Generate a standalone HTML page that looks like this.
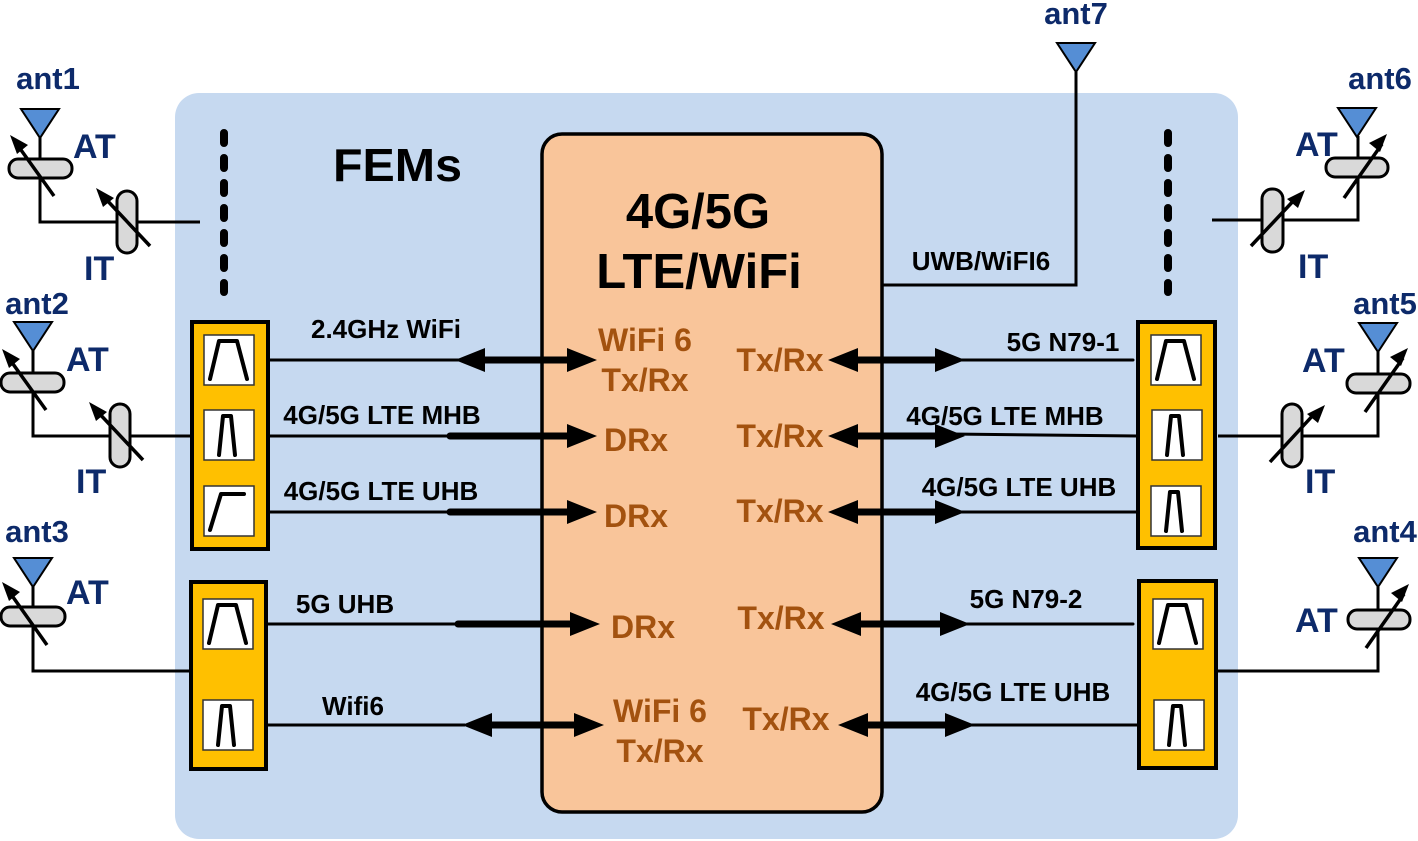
<!DOCTYPE html>
<html><head><meta charset="utf-8"><style>
html,body{margin:0;padding:0;background:#fff;}
svg{display:block;}
text{font-family:"Liberation Sans",Arial,sans-serif;font-weight:bold;}
.n{fill:#0d2a6a;font-size:31px;}
.a{fill:#0d2a6a;font-size:34px;}
.l{fill:#000;font-size:26px;}
.o{fill:#a3520f;font-size:32px;}
</style></head><body>
<svg width="1418" height="841" viewBox="0 0 1418 841" xmlns="http://www.w3.org/2000/svg">
<defs>
<g id="fw"><rect x="0" y="0" width="50" height="50" fill="#fff" stroke="#333" stroke-width="1.5"/><path d="M6,44 L15,6 L33,6 L43,44" fill="none" stroke="#000" stroke-width="4" stroke-linecap="round" stroke-linejoin="round"/></g>
<g id="fn"><rect x="0" y="0" width="50" height="50" fill="#fff" stroke="#333" stroke-width="1.5"/><path d="M15,45 L19,6 L27,6 L31,45" fill="none" stroke="#000" stroke-width="4" stroke-linecap="round" stroke-linejoin="round"/></g>
<g id="fh"><rect x="0" y="0" width="50" height="50" fill="#fff" stroke="#333" stroke-width="1.5"/><path d="M6,44 L17,8 L40,8" fill="none" stroke="#000" stroke-width="4" stroke-linecap="round" stroke-linejoin="round"/></g>
<g id="tri"><polygon points="-19,0 19,0 0,29" fill="#558ed5" stroke="#000" stroke-width="2"/></g>
</defs>

<rect x="175" y="93" width="1063" height="746" rx="24" fill="#c6d9f0"/>

<rect x="542" y="134" width="340" height="678" rx="20" fill="#f9c59a" stroke="#000" stroke-width="3.5"/>
<text x="698" y="228" font-size="49" text-anchor="middle">4G/5G</text>
<text x="699" y="288" font-size="49" text-anchor="middle">LTE/WiFi</text>
<text x="333" y="181" font-size="46" textLength="129" lengthAdjust="spacingAndGlyphs">FEMs</text>

<line x1="224" y1="133" x2="224" y2="292" stroke="#000" stroke-width="8" stroke-linecap="round" stroke-dasharray="10,15"/>
<line x1="1168" y1="133" x2="1168" y2="292" stroke="#000" stroke-width="8" stroke-linecap="round" stroke-dasharray="10,15"/>

<text x="1076" y="24" class="n" text-anchor="middle">ant7</text>
<use href="#tri" x="1076" y="43"/>
<polyline points="1076,72 1076,285 882,285" fill="none" stroke="#000" stroke-width="3"/>
<text x="981" y="270" class="l" text-anchor="middle">UWB/WiFI6</text>

<rect x="192" y="322" width="76" height="227" fill="#ffc000" stroke="#000" stroke-width="4"/>
<use href="#fw" x="204" y="335"/><use href="#fn" x="204" y="410"/><use href="#fh" x="204" y="486"/>
<rect x="191" y="582" width="75" height="187" fill="#ffc000" stroke="#000" stroke-width="4"/>
<use href="#fw" x="203" y="599"/><use href="#fn" x="203" y="700"/>
<rect x="1138" y="322" width="77" height="226" fill="#ffc000" stroke="#000" stroke-width="4"/>
<use href="#fw" x="1151" y="335"/><use href="#fn" x="1152" y="410"/><use href="#fn" x="1151" y="486"/>
<rect x="1139" y="581" width="77" height="187" fill="#ffc000" stroke="#000" stroke-width="4"/>
<use href="#fw" x="1153" y="599"/><use href="#fn" x="1154" y="700"/>

<g stroke="#000" fill="none">
<line x1="268" y1="360" x2="460" y2="360" stroke-width="3"/>
<line x1="470" y1="360" x2="580" y2="360" stroke-width="7"/>
<line x1="268" y1="436" x2="450" y2="436" stroke-width="3"/>
<line x1="450" y1="436" x2="575" y2="436" stroke-width="7" stroke-linecap="round"/>
<line x1="268" y1="512" x2="450" y2="512" stroke-width="3"/>
<line x1="450" y1="512" x2="575" y2="512" stroke-width="7" stroke-linecap="round"/>
<line x1="266" y1="624" x2="458" y2="624" stroke-width="3"/>
<line x1="458" y1="624" x2="580" y2="624" stroke-width="7" stroke-linecap="round"/>
<line x1="266" y1="725" x2="465" y2="725" stroke-width="3"/>
<line x1="475" y1="725" x2="585" y2="725" stroke-width="7"/>
</g>
<g fill="#000">
<polygon points="455,360 485,348 485,372"/><polygon points="597,360 567,348 567,372"/>
<polygon points="597,436 567,424 567,448"/>
<polygon points="597,512 567,500 567,524"/>
<polygon points="600,624 570,612 570,636"/>
<polygon points="462,725 492,713 492,737"/><polygon points="604,725 574,713 574,737"/>
</g>
<text x="386" y="338" class="l" text-anchor="middle">2.4GHz WiFi</text>
<text x="382" y="424" class="l" text-anchor="middle">4G/5G LTE MHB</text>
<text x="381" y="500" class="l" text-anchor="middle">4G/5G LTE UHB</text>
<text x="345" y="613" class="l" text-anchor="middle">5G UHB</text>
<text x="353" y="715" class="l" text-anchor="middle">Wifi6</text>
<text x="645" y="351" class="o" text-anchor="middle">WiFi 6</text>
<text x="645" y="391" class="o" text-anchor="middle">Tx/Rx</text>
<text x="636" y="451" class="o" text-anchor="middle">DRx</text>
<text x="636" y="527" class="o" text-anchor="middle">DRx</text>
<text x="643" y="638" class="o" text-anchor="middle">DRx</text>
<text x="660" y="722" class="o" text-anchor="middle">WiFi 6</text>
<text x="660" y="762" class="o" text-anchor="middle">Tx/Rx</text>

<g stroke="#000" fill="none">
<line x1="845" y1="360" x2="950" y2="360" stroke-width="7"/>
<line x1="950" y1="360" x2="1133" y2="360" stroke-width="3" stroke-linecap="round"/>
<line x1="845" y1="436" x2="950" y2="436" stroke-width="7"/>
<line x1="950" y1="434" x2="1138" y2="436" stroke-width="3"/>
<line x1="845" y1="512" x2="950" y2="512" stroke-width="7"/>
<line x1="950" y1="512" x2="1138" y2="512" stroke-width="3"/>
<line x1="848" y1="624" x2="955" y2="624" stroke-width="7"/>
<line x1="955" y1="624" x2="1133" y2="624" stroke-width="3" stroke-linecap="round"/>
<line x1="855" y1="725" x2="960" y2="725" stroke-width="7"/>
<line x1="960" y1="725" x2="1139" y2="725" stroke-width="3"/>
</g>
<g fill="#000">
<polygon points="828,360 858,348 858,372"/><polygon points="965,360 935,348 935,372"/>
<polygon points="828,436 858,424 858,448"/><polygon points="965,436 935,424 935,448"/>
<polygon points="828,512 858,500 858,524"/><polygon points="965,512 935,500 935,524"/>
<polygon points="831,624 861,612 861,636"/><polygon points="970,624 940,612 940,636"/>
<polygon points="838,725 868,713 868,737"/><polygon points="975,725 945,713 945,737"/>
</g>
<text x="780" y="371" class="o" text-anchor="middle">Tx/Rx</text>
<text x="780" y="447" class="o" text-anchor="middle">Tx/Rx</text>
<text x="780" y="522" class="o" text-anchor="middle">Tx/Rx</text>
<text x="781" y="629" class="o" text-anchor="middle">Tx/Rx</text>
<text x="786" y="730" class="o" text-anchor="middle">Tx/Rx</text>
<text x="1063" y="351" class="l" text-anchor="middle">5G N79-1</text>
<text x="1005" y="425" class="l" text-anchor="middle">4G/5G LTE MHB</text>
<text x="1019" y="496" class="l" text-anchor="middle">4G/5G LTE UHB</text>
<text x="1026" y="608" class="l" text-anchor="middle">5G N79-2</text>
<text x="1013" y="701" class="l" text-anchor="middle">4G/5G LTE UHB</text>

<g stroke="#000" stroke-width="3" fill="none">
<polyline points="40,137 40,222 200,222"/>
<polyline points="33,350 33,436 191,436"/>
<polyline points="33,586 33,671 191,671"/>
</g>
<g stroke="#000" stroke-width="3" fill="#d9d9d9">
<rect x="9" y="159" width="63" height="19" rx="9"/>
<rect x="117" y="191" width="20" height="62" rx="10"/>
<rect x="1" y="373" width="63" height="19" rx="9"/>
<rect x="110" y="404" width="20" height="63" rx="10"/>
<rect x="1" y="607" width="64" height="19" rx="9"/>
</g>
<g stroke="#000" stroke-width="3.5">
<line x1="54" y1="196" x2="16" y2="143"/><line x1="150" y1="246" x2="103" y2="196"/>
<line x1="46" y1="410" x2="8" y2="357"/><line x1="143" y1="460" x2="96" y2="410"/>
<line x1="47" y1="645" x2="8" y2="590"/>
</g>
<g fill="#000">
<polygon points="10,135 28,145 17,154"/><polygon points="96,188 114,198 103,207"/>
<polygon points="2,349 20,359 9,368"/><polygon points="89,402 107,412 96,421"/>
<polygon points="2,582 20,592 9,601"/>
</g>
<use href="#tri" x="40" y="109"/>
<use href="#tri" x="33" y="322"/>
<use href="#tri" x="33" y="558"/>
<text x="48" y="89" class="n" text-anchor="middle">ant1</text>
<text x="37" y="314" class="n" text-anchor="middle">ant2</text>
<text x="37" y="542" class="n" text-anchor="middle">ant3</text>
<text x="73" y="158" class="a">AT</text>
<text x="66" y="371" class="a">AT</text>
<text x="66" y="604" class="a">AT</text>
<text x="84" y="280" class="a">IT</text>
<text x="76" y="493" class="a">IT</text>

<g stroke="#000" stroke-width="3" fill="none">
<polyline points="1358,136 1358,220 1212,220"/>
<polyline points="1378,351 1378,436 1218,436"/>
<polyline points="1378,587 1378,671 1218,671"/>
</g>
<g stroke="#000" stroke-width="3" fill="#d9d9d9">
<rect x="1326" y="158" width="62" height="19" rx="9"/>
<rect x="1262" y="189" width="21" height="63" rx="10"/>
<rect x="1347" y="374" width="63" height="19" rx="9"/>
<rect x="1282" y="404" width="20" height="63" rx="10"/>
<rect x="1348" y="610" width="62" height="19" rx="9"/>
</g>
<g stroke="#000" stroke-width="3.5">
<line x1="1344" y1="198" x2="1382" y2="144"/><line x1="1251" y1="246" x2="1297" y2="197"/>
<line x1="1365" y1="412" x2="1403" y2="358"/><line x1="1270" y1="462" x2="1316" y2="412"/>
<line x1="1366" y1="648" x2="1404" y2="594"/>
</g>
<g fill="#000">
<polygon points="1387,134 1369,143 1380,152"/><polygon points="1305,190 1287,199 1298,208"/>
<polygon points="1408,348 1390,357 1401,366"/><polygon points="1325,405 1307,414 1318,423"/>
<polygon points="1409,584 1391,593 1402,602"/>
</g>
<use href="#tri" x="1357" y="108"/>
<use href="#tri" x="1378" y="323"/>
<use href="#tri" x="1378" y="558"/>
<text x="1380" y="89" class="n" text-anchor="middle">ant6</text>
<text x="1385" y="314" class="n" text-anchor="middle">ant5</text>
<text x="1385" y="542" class="n" text-anchor="middle">ant4</text>
<text x="1295" y="156" class="a">AT</text>
<text x="1302" y="372" class="a">AT</text>
<text x="1295" y="632" class="a">AT</text>
<text x="1298" y="278" class="a">IT</text>
<text x="1305" y="493" class="a">IT</text>
</svg>
</body></html>
